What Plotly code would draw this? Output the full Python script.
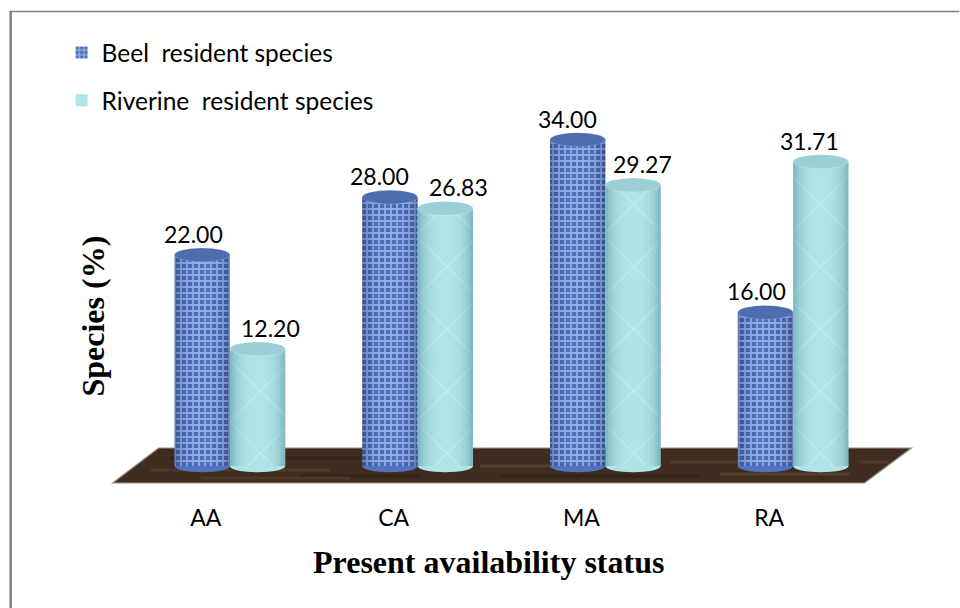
import plotly.graph_objects as go

categories = ["AA", "CA", "MA", "RA"]
beel_values = [22.00, 28.00, 34.00, 16.00]
riverine_values = [12.20, 26.83, 29.27, 31.71]
series_names = ["Beel  resident species", "Riverine  resident species"]

W, H = 960, 608
L, R, T, B = 135.5, 887.5, 80, 490
Y_MIN, Y_MAX = -2.5, (466 - 80) / 9.6
BAR_W = 0.295


def px(x):
    return (x - L) / (R - L)


def py(y):
    return (B - y) / (B - T)


fig = go.Figure()
fig.add_bar(
    x=categories, y=beel_values, name=series_names[0], legendgroup="a",
    marker=dict(color="#5374BC", line_width=0,
                pattern=dict(shape="+", size=6, solidity=0.5, fgcolor="#94AFE8",
                             bgcolor="#4C6EB8", fillmode="replace")),
)
fig.add_bar(
    x=categories, y=riverine_values, name=series_names[1], legendgroup="b",
    marker=dict(color="#A9E0E6", line_width=0,
                pattern=dict(shape="x", size=44, solidity=0.05, fgcolor="#C6EEF1",
                             bgcolor="#AFE3E8", fillmode="replace")),
)

shapes = [
    dict(type="line", xref="paper", yref="paper", x0=px(10), x1=px(10), y0=py(608), y1=py(11),
         line=dict(color="#808080", width=2.5), layer="below"),
    dict(type="line", xref="paper", yref="paper", x0=px(9), x1=px(960), y0=py(11.5), y1=py(11.5),
         line=dict(color="#808080", width=1.5), layer="below"),
    dict(type="path", xref="paper", yref="paper", layer="below",
         path=f"M{px(112)},{py(483)} L{px(158)},{py(448)} L{px(912)},{py(448)} L{px(865)},{py(483)} Z",
         fillcolor="#3F2C1E", line=dict(color="#9a948c", width=1.2)),
]
for a, b, yy, col in (
    (150, 330, 470, "#4E3829"), (300, 420, 476, "#33231A"), (480, 560, 466, "#54402F"),
    (500, 700, 476, "#33231A"), (670, 740, 462, "#4E3829"), (720, 850, 474, "#54402F"),
    (860, 890, 462, "#4E3829"), (170, 360, 458, "#33231A"), (200, 350, 478, "#4C3626"),
):
    shapes.append(dict(type="line", xref="paper", yref="paper", layer="below",
                       x0=px(a), x1=px(b), y0=py(yy), y1=py(yy),
                       line=dict(color=col, width=3)))

for i in range(len(categories)):
    for side, values, base, top, edge in (
        (-1, beel_values, "#5172BC", "#4E6DAF", "0,10,50"),
        (1, riverine_values, "#AFE3E8", "#9CCFD5", "0,70,90"),
    ):
        v = values[i]
        c = i + side * BAR_W / 2
        x0, x1 = c - BAR_W / 2, c + BAR_W / 2
        shapes.append(dict(type="circle", xref="x", yref="y", layer="below",
                           x0=x0, x1=x1, y0=-0.65, y1=0.65, fillcolor=base, line_width=0))
        n = 20
        for k in range(n):
            t = (k + 0.5) / n * 2 - 1
            alpha = 0.3 * abs(t) ** 3
            shapes.append(dict(type="rect", xref="x", yref="y",
                               x0=x0 + (x1 - x0) * k / n, x1=x0 + (x1 - x0) * (k + 1) / n,
                               y0=0, y1=v, fillcolor=f"rgba({edge},{alpha:.3f})", line_width=0))
        shapes.append(dict(type="circle", xref="x", yref="y",
                           x0=x0, x1=x1, y0=v - 0.72, y1=v + 0.72, fillcolor=top,
                           line=dict(color="rgba(255,255,255,0.35)", width=0.5)))

label_shift = {0: (-9, 13), 1: (-10, 13), 2: (-10, 9), 3: (-9, -11)}
annotations = []
for i in range(len(categories)):
    for side, values, dx in ((-1, beel_values, label_shift[i][0]), (1, riverine_values, label_shift[i][1])):
        annotations.append(dict(x=i + side * BAR_W / 2, y=values[i], xref="x", yref="y",
                                text=f"{values[i]:.2f}", showarrow=False, xshift=dx, yshift=21,
                                font=dict(family="Lato", size=23, color="#000")))
annotations.append(dict(x=px(488), y=py(562), xref="paper", yref="paper", showarrow=False,
                        xanchor="center", yanchor="middle",
                        text="<b>Present availability status</b>",
                        font=dict(family="Liberation Serif", size=32, color="#000")))
annotations.append(dict(x=px(92), y=py(316), xref="paper", yref="paper", showarrow=False, textangle=-90,
                        xanchor="center", yanchor="middle",
                        text="<b>Species (%)</b>",
                        font=dict(family="Liberation Serif", size=32, color="#000")))

fig.update_layout(
    width=W, height=H, margin=dict(l=L, r=W - R, t=T, b=H - B, autoexpand=False),
    paper_bgcolor="white", plot_bgcolor="rgba(0,0,0,0)",
    barmode="group", bargap=0.41, bargroupgap=0,
    font=dict(family="Lato", size=19, color="#000"),
    shapes=shapes, annotations=annotations,
    legend=dict(x=px(61), y=py(30), xanchor="left", yanchor="top", traceorder="grouped",
                tracegroupgap=13, font=dict(family="Lato", size=24.5), bgcolor="rgba(0,0,0,0)"),
    xaxis=dict(showgrid=False, zeroline=False, showline=False, ticks="", ticklabelstandoff=12,
               ticklabelshift=-24, tickfont=dict(family="Lato", size=23)),
    yaxis=dict(range=[Y_MIN, Y_MAX], visible=False),
)
fig.write_html("out.html", post_script="document.body.style.margin='0';",
               config={"displayModeBar": False})
